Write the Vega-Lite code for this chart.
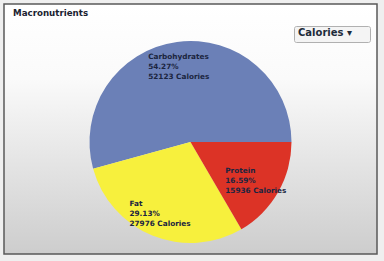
{
  "$schema": "https://vega.github.io/schema/vega-lite/v6.json",
  "width": 384,
  "height": 261,
  "autosize": {"type": "fit", "contains": "padding"},
  "padding": {"left": 3, "top": 3, "right": 6, "bottom": 6},
  "background": "#efefef",
  "title": {
    "text": "Macronutrients",
    "anchor": "start",
    "frame": "group",
    "orient": "top",
    "offset": -14,
    "dx": 9,
    "fontSize": 8.7,
    "font": "DejaVu Sans",
    "fontWeight": "bold",
    "color": "#1a2230"
  },
  "config": {"view": {"stroke": null}},
  "data": {
    "values": [
      {"nutrient": "Carbohydrates", "percent": 54.27, "calories": 52123},
      {"nutrient": "Fat", "percent": 29.13, "calories": 27976},
      {"nutrient": "Protein", "percent": 16.59, "calories": 15936}
    ]
  },
  "layer": [
    {
      "data": {"values": [{"frame": "window"}]},
      "mark": {
        "type": "rect",
        "stroke": "#5a5a5a",
        "strokeWidth": 1.5,
        "fill": {
          "gradient": "linear",
          "x1": 0, "y1": 0, "x2": 0, "y2": 1,
          "stops": [
            {"offset": 0, "color": "#ffffff"},
            {"offset": 0.3, "color": "#fafafa"},
            {"offset": 1, "color": "#cdcdcd"}
          ]
        }
      },
      "encoding": {
        "x": {"value": 0},
        "x2": {"value": "width"},
        "y": {"value": 0},
        "y2": {"value": "height"}
      }
    },
    {
      "mark": {"type": "arc", "outerRadius": 101, "yOffset": 13},
      "encoding": {
        "theta": {
          "field": "calories",
          "type": "quantitative",
          "stack": true,
          "scale": {"range": [1.5708, 7.854]}
        },
        "order": {"field": "calories", "sort": "ascending"},
        "color": {
          "field": "nutrient",
          "type": "nominal",
          "scale": {
            "domain": ["Carbohydrates", "Fat", "Protein"],
            "range": ["#6b80b7", "#f7f03d", "#dc3326"]
          },
          "legend": {
            "orient": "none",
            "legendX": 290,
            "legendY": 22,
            "values": ["Carbohydrates"],
            "title": "Calories  ▾",
            "titleFontSize": 10,
            "titleFont": "DejaVu Sans",
            "titleFontWeight": "bold",
            "titleColor": "#1d2b3a",
            "titleOrient": "left",
            "titlePadding": 0,
            "symbolSize": 0,
            "symbolStrokeWidth": 0,
            "symbolOpacity": 0,
            "labelFontSize": 0,
            "labelExpr": "''",
            "labelOffset": 0,
            "symbolOffset": 0,
            "direction": "horizontal",
            "columnPadding": 0,
            "rowPadding": 0,
            "padding": 4,
            "strokeColor": "#b0b0b0",
            "fillColor": "#f4f4f4",
            "cornerRadius": 2
          }
        }
      }
    },
    {
      "transform": [
        {"calculate": "[datum.nutrient, '\u00a0' + format(datum.percent, '.2f') + '%', datum.calories + ' Calories']", "as": "label"}
      ],
      "mark": {
        "type": "text",
        "radius": 77,
        "align": "left",
        "baseline": "middle",
        "dx": -32,
        "dy": 4,
        "font": "DejaVu Sans",
        "fontWeight": "bold",
        "fontSize": 7.3,
        "lineHeight": 10,
        "color": "#1b2540"
      },
      "encoding": {
        "theta": {
          "field": "calories",
          "type": "quantitative",
          "stack": true
        },
        "order": {"field": "calories", "sort": "ascending"},
        "text": {"field": "label"}
      }
    }
  ]
}
